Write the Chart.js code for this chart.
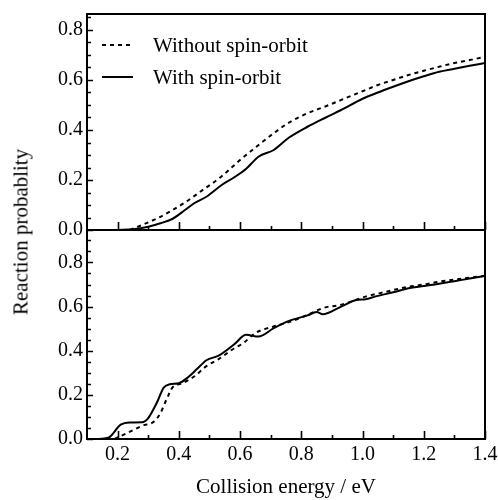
<!DOCTYPE html>
<html>
<head>
<meta charset="utf-8">
<script src="https://cdn.jsdelivr.net/npm/chart.js@4"></script>
<style>
  html, body { margin: 0; padding: 0; background: #fff; }
  body { width: 498px; height: 500px; position: relative; overflow: hidden; font-family: "Liberation Serif", serif; }
  .panel { position: absolute; left: 0; width: 498px; }
  #topBox { top: 0; height: 250px; }
  #bottomBox { top: 228px; height: 272px; }
  #yTitle {
    position: absolute; left: 21px; top: 232px; white-space: nowrap;
    transform: translate(-50%, -50%) rotate(-90deg);
    font-size: 21px; color: #000;
  }
  #legend { position: absolute; left: 102px; top: 29px; font-size: 21px; color: #000; }
  #legend div { height: 32px; line-height: 24px; display: flex; align-items: center; }
  #legend svg { width: 31px; height: 4px; margin-right: 20px; }
</style>
</head>
<body>
<div id="topBox" class="panel"><canvas id="topChart"></canvas></div>
<div id="bottomBox" class="panel"><canvas id="bottomChart"></canvas></div>
<div id="yTitle">Reaction probablity</div>
<div id="legend">
  <div><svg><line x1="0" y1="2" x2="31" y2="2" stroke="#000" stroke-width="2" stroke-dasharray="4 4"/></svg>Without spin-orbit</div>
  <div><svg><line x1="0" y1="2" x2="31" y2="2" stroke="#000" stroke-width="2"/></svg>With spin-orbit</div>
</div>
<script>
// upper panel
const topEnergyWithout = [0.24, 0.28, 0.33, 0.38, 0.42, 0.47, 0.54, 0.60, 0.65, 0.71, 0.76, 0.82, 0.88, 0.93, 1.00, 1.05, 1.10, 1.15, 1.20, 1.25, 1.30, 1.35, 1.40];
const topProbWithout   = [0.0, 0.02, 0.047, 0.08, 0.11, 0.153, 0.215, 0.28, 0.33, 0.387, 0.43, 0.467, 0.495, 0.52, 0.555, 0.58, 0.60, 0.62, 0.637, 0.653, 0.668, 0.68, 0.692];
const topEnergyWith = [0.20, 0.25, 0.30, 0.34, 0.38, 0.42, 0.45, 0.49, 0.54, 0.58, 0.62, 0.66, 0.71, 0.76, 0.82, 0.88, 0.93, 1.00, 1.05, 1.10, 1.15, 1.20, 1.25, 1.30, 1.35, 1.40];
const topProbWith   = [0.0, 0.003, 0.013, 0.027, 0.045, 0.08, 0.107, 0.133, 0.18, 0.21, 0.245, 0.293, 0.32, 0.37, 0.413, 0.45, 0.48, 0.525, 0.55, 0.573, 0.595, 0.615, 0.633, 0.645, 0.657, 0.668];

// lower panel
const bottomEnergyWithout = [0.19, 0.22, 0.25, 0.28, 0.32, 0.34, 0.36, 0.38, 0.41, 0.45, 0.49, 0.53, 0.58, 0.61, 0.65, 0.71, 0.76, 0.82, 0.87, 0.93, 1.01, 1.07, 1.15, 1.20, 1.25, 1.30, 1.35, 1.40];
const bottomProbWithout   = [0.0, 0.02, 0.04, 0.06, 0.08, 0.118, 0.18, 0.235, 0.252, 0.283, 0.33, 0.362, 0.41, 0.434, 0.48, 0.51, 0.53, 0.562, 0.593, 0.608, 0.645, 0.665, 0.69, 0.70, 0.713, 0.722, 0.731, 0.74];
const bottomEnergyWith = [0.13, 0.17, 0.21, 0.24, 0.28, 0.30, 0.33, 0.35, 0.37, 0.40, 0.43, 0.46, 0.49, 0.53, 0.58, 0.62, 0.66, 0.71, 0.76, 0.82, 0.85, 0.87, 0.93, 0.98, 1.01, 1.04, 1.10, 1.15, 1.20, 1.25, 1.30, 1.35, 1.40];
const bottomProbWith   = [0.0, 0.006, 0.065, 0.075, 0.076, 0.095, 0.17, 0.232, 0.248, 0.253, 0.28, 0.318, 0.357, 0.378, 0.428, 0.472, 0.464, 0.502, 0.535, 0.56, 0.575, 0.565, 0.60, 0.63, 0.633, 0.645, 0.665, 0.683, 0.693, 0.703, 0.715, 0.727, 0.739];

const yTickStep = 0.2;
const fontFamily = '"Liberation Serif", "Times New Roman", serif';

const toPoints = (xs, ys) => xs.map((x, i) => ({ x, y: ys[i] }));

// frame + inward tick marks, positions taken from the chart scales
const insideTicks = {
    id: 'insideTicks',
    afterDatasetsDraw(chart) {
        const { ctx, chartArea: { left, right, top, bottom }, scales: { x, y } } = chart;
        ctx.save();
        ctx.strokeStyle = '#000';
        ctx.lineWidth = 1.6;
        ctx.beginPath();
        for (let i = 0; i * 0.05 <= y.max + 1e-6; i++) {
            const py = Math.round(y.getPixelForValue(i * 0.05)) + 0.5;
            const len = i % 4 === 0 ? 6 : 4;
            ctx.moveTo(left, py);
            ctx.lineTo(left + len, py);
        }
        for (let i = 1; i * 0.1 <= x.max + 1e-6; i++) {
            const v = i * 0.1;
            if (v < x.min + 1e-6) continue;
            const px = Math.round(x.getPixelForValue(v)) + 0.5;
            const len = i % 2 === 0 ? 8 : 4;
            ctx.moveTo(px, bottom);
            ctx.lineTo(px, bottom - len);
        }
        ctx.stroke();
        ctx.lineWidth = 2;
        ctx.strokeRect(left, top, right - left, bottom - top);
        ctx.restore();
    }
};

const lineSet = (label, points, dashed) => ({
    label,
    data: points,
    borderColor: '#000',
    borderWidth: 2,
    borderDash: dashed ? [4, 4] : [],
    pointRadius: 0,
    fill: false,
    cubicInterpolationMode: 'monotone'
});

const yAxis = (max) => ({
    min: 0,
    max,
    afterFit: (scale) => { scale.width = 87; scale.paddingTop = 0; scale.paddingBottom = 0; },
    border: { display: false },
    grid: { display: false, drawTicks: false },
    ticks: {
        stepSize: yTickStep,
        includeBounds: false,
        padding: 4,
        color: '#000',
        font: { family: fontFamily, size: 20 },
        callback: (v) => v.toFixed(1)
    }
});

const createChart = (id, config) => new Chart(document.getElementById(id), config);

createChart('topChart', {
    type: 'line',
    data: {
        datasets: [
            lineSet('Without spin-orbit', toPoints(topEnergyWithout, topProbWithout), true),
            lineSet('With spin-orbit', toPoints(topEnergyWith, topProbWith), false)
        ]
    },
    options: {
        responsive: true,
        maintainAspectRatio: false,
        animation: false,
        layout: { padding: { top: 14, right: 13, bottom: 20, left: 0 } },
        plugins: { legend: { display: false }, tooltip: { enabled: false } },
        scales: {
            x: { type: 'linear', min: 0.1, max: 1.4, display: false },
            y: yAxis(0.864)
        }
    },
    plugins: [insideTicks]
});

createChart('bottomChart', {
    type: 'line',
    data: {
        datasets: [
            lineSet('Without spin-orbit', toPoints(bottomEnergyWithout, bottomProbWithout), true),
            lineSet('With spin-orbit', toPoints(bottomEnergyWith, bottomProbWith), false)
        ]
    },
    options: {
        responsive: true,
        maintainAspectRatio: false,
        animation: false,
        layout: { padding: { top: 2, right: 13, bottom: 0, left: 0 } },
        plugins: { legend: { display: false }, tooltip: { enabled: false } },
        scales: {
            x: {
                type: 'linear',
                min: 0.1,
                max: 1.4,
                afterFit: (scale) => { scale.height = 61; scale.paddingLeft = 0; scale.paddingRight = 0; },
                border: { display: false },
                grid: { display: false, drawTicks: false },
                ticks: {
                    stepSize: 0.2,
                    includeBounds: false,
                    padding: 4,
                    maxRotation: 0,
                    color: '#000',
                    font: { family: fontFamily, size: 20 },
                    callback: (v) => v.toFixed(1)
                },
                title: {
                    display: true,
                    text: 'Collision energy / eV',
                    color: '#000',
                    padding: { top: 0, bottom: 0 },
                    font: { family: fontFamily, size: 21 }
                }
            },
            y: yAxis(0.947)
        }
    },
    plugins: [insideTicks]
});
</script>
</body>
</html>
